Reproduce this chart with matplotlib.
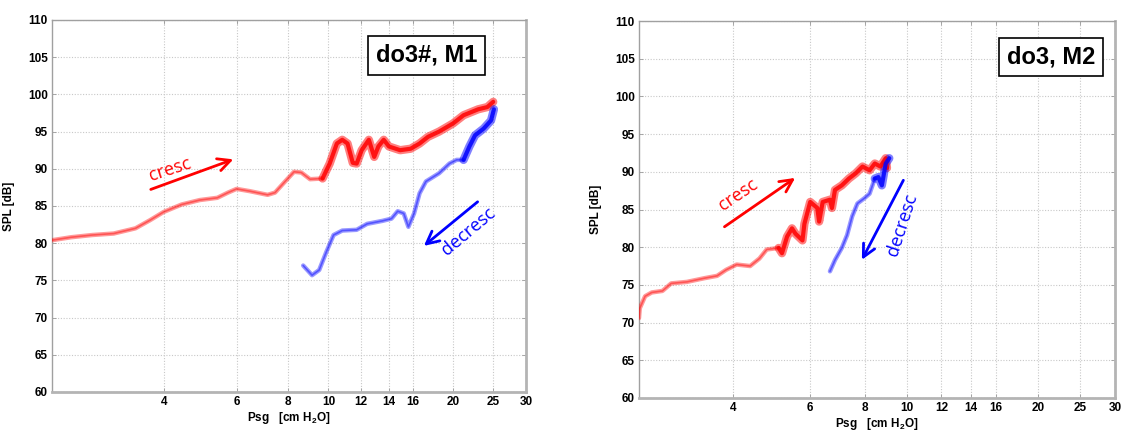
import matplotlib
matplotlib.use("Agg")
import matplotlib.pyplot as plt
import numpy as np

# ---------------- data ----------------
# Panel 1: do3#, M1
m1_cresc_x = [2.15, 2.39, 2.69, 3.03, 3.42, 3.71, 4.0, 4.42, 4.89, 5.39, 5.72, 6.0, 6.45, 7.13, 7.43,
              7.86, 8.26, 8.6, 9.03, 9.68, 10.07, 10.48, 10.8, 11.12, 11.45, 11.7, 12.03, 12.52, 12.9,
              13.2, 13.6, 14.0, 14.9, 15.8, 16.6, 17.4, 18.5, 20.0, 21.2, 23.0, 24.2, 25.0]
m1_cresc_y = [80.4, 80.8, 81.1, 81.3, 82.0, 83.1, 84.2, 85.2, 85.8, 86.1, 86.8, 87.3, 87.0, 86.5, 86.8,
              88.3, 89.6, 89.5, 88.6, 88.7, 90.7, 93.4, 93.9, 93.4, 90.8, 90.7, 92.5, 93.9, 91.6,
              93.0, 93.9, 93.0, 92.5, 92.7, 93.4, 94.3, 95.0, 96.1, 97.2, 98.0, 98.3, 99.0]
m1_decr_x = [8.69, 9.13, 9.5, 9.88, 10.29, 10.8, 11.7, 12.4, 13.5, 14.2, 14.7, 15.2, 15.6, 16.1, 16.6,
             17.2, 18.5, 19.6, 20.4, 21.2, 21.9, 22.6, 23.7, 24.7, 25.1]
m1_decr_y = [77.0, 75.7, 76.4, 78.8, 81.1, 81.7, 81.8, 82.6, 83.0, 83.3, 84.3, 84.0, 82.2, 84.0, 86.7,
             88.3, 89.4, 90.7, 91.2, 91.2, 93.0, 94.5, 95.4, 96.5, 98.0]

# Panel 2: do3, M2
m2_cresc_x = [2.43, 2.44, 2.51, 2.60, 2.75, 2.88, 3.13, 3.44, 3.67, 3.85, 4.07, 4.37, 4.59, 4.77, 5.08,
              5.17, 5.31, 5.45, 5.55, 5.76, 5.82, 6.0, 6.23, 6.29, 6.41, 6.66, 6.73, 6.84, 7.09, 7.36,
              7.63, 7.91, 8.21, 8.44, 8.69, 8.94, 9.0]
m2_cresc_y = [70.6, 71.9, 73.5, 74.0, 74.2, 75.2, 75.4, 75.9, 76.2, 77.0, 77.7, 77.5, 78.5, 79.7, 79.9,
              79.2, 81.4, 82.5, 81.8, 80.9, 83.1, 86.0, 85.2, 83.4, 86.0, 86.3, 85.2, 87.6, 88.2, 89.1,
              89.8, 90.7, 90.2, 91.1, 90.7, 91.8, 90.5]
m2_decr_x = [6.66, 6.84, 7.09, 7.29, 7.49, 7.70, 7.99, 8.21, 8.44, 8.60, 8.76, 8.86, 8.94, 9.11]
m2_decr_y = [76.8, 78.3, 79.9, 81.6, 84.1, 85.8, 86.5, 87.1, 89.1, 89.3, 88.2, 89.8, 91.1, 91.8]

x_ticks = [4, 6, 8, 10, 12, 14, 16, 20, 25, 30]
y_ticks = [60, 65, 70, 75, 80, 85, 90, 95, 100, 105, 110]
titles = ["do3#, M1", "do3, M2"]

# ---------------- figure ----------------
fig = plt.figure(figsize=(11.24, 4.32), dpi=100)
ax1 = fig.add_axes([52/1124, 1-392/432, 474/1124, 372/432])
ax2 = fig.add_axes([639/1124, 1-398/432, 476/1124, 377/432])

tickfont = dict(family="Liberation Sans", weight="bold", size=8.5)
annfont = "Open Sans"


def style(ax, xmin):
    ax.set_xscale("log")
    ax.set_xlim(xmin, 30)
    ax.set_ylim(60, 110)
    ax.xaxis.set_minor_locator(matplotlib.ticker.NullLocator())
    ax.set_xticks(x_ticks)
    ax.set_xticklabels([str(t) for t in x_ticks], **tickfont)
    ax.set_yticks(y_ticks)
    ax.set_yticklabels([str(t) for t in y_ticks], **tickfont)
    ax.tick_params(direction="in", length=3, width=0.6, color="#999999", top=True, right=True, pad=3)
    ax.grid(True, which="major", color="#c8c8c8", linestyle=(0, (1, 1.5)), linewidth=0.8)
    for s in ["left", "top"]:
        ax.spines[s].set_color("#a0a0a0")
        ax.spines[s].set_linewidth(1.0)
    for s in ["right", "bottom"]:
        ax.spines[s].set_color("#b4b4b4")
        ax.spines[s].set_linewidth(2.0)
    ax.set_xlabel("Psg   [cm H$_\\mathregular{2}$O]", fontsize=8.5, fontweight="bold",
                  family="Liberation Sans", labelpad=1)
    ax.set_ylabel("SPL [dB]", fontsize=8.5, fontweight="bold", family="Liberation Sans", labelpad=9)


def draw_series(ax, xs, ys, color, split):
    xs = np.asarray(xs)
    ys = np.asarray(ys)
    thin = xs <= split
    ax.plot(xs[thin], ys[thin], color=color, lw=3.2, alpha=0.4, solid_capstyle="round",
            solid_joinstyle="round", zorder=3)
    ax.plot(xs[thin], ys[thin], color=color, lw=1.2, alpha=0.45, solid_capstyle="round",
            solid_joinstyle="round", zorder=4)
    idx = max(np.argmax(~thin) - 1, 0) if (~thin).any() else len(xs)
    if idx < len(xs):
        ax.plot(xs[idx:], ys[idx:], color=color, lw=6, alpha=0.5, solid_capstyle="round",
                solid_joinstyle="round", zorder=3)
        ax.plot(xs[idx:], ys[idx:], color=color, lw=3, alpha=0.85, solid_capstyle="round",
                solid_joinstyle="round", zorder=4)


arrow_style = "->,head_length=0.9,head_width=0.45"

# ---- panel 1 ----
style(ax1, 2.15)
draw_series(ax1, m1_cresc_x, m1_cresc_y, "#ff0000", 10.0)
draw_series(ax1, m1_decr_x, m1_decr_y, "#0000ff", 21.5)

ax1.annotate("", xy=(5.98, 91.4), xytext=(3.67, 87.1),
             arrowprops=dict(arrowstyle=arrow_style, color="#ff0000", lw=2))
ax1.text(4.15, 89.9, "cresc", color="#ff0000", fontsize=13, family=annfont, rotation=18,
         ha="center", va="center")
ax1.annotate("", xy=(16.8, 79.4), xytext=(23.2, 85.8),
             arrowprops=dict(arrowstyle=arrow_style, color="#0000ff", lw=2))
ax1.text(21.8, 81.6, "decresc", color="#0000ff", fontsize=13, family=annfont, rotation=40,
         ha="center", va="center")
ax1.text(0.79, 0.905, titles[0], transform=ax1.transAxes, fontsize=17, fontweight="bold",
         family="Liberation Sans", ha="center", va="center",
         bbox=dict(boxstyle="square,pad=0.33", facecolor="white", edgecolor="black", lw=1.2))

# ---- panel 2 ----
style(ax2, 2.43)
draw_series(ax2, m2_cresc_x, m2_cresc_y, "#ff0000", 5.1)
draw_series(ax2, m2_decr_x, m2_decr_y, "#0000ff", 8.5)

ax2.annotate("", xy=(5.61, 89.4), xytext=(3.77, 82.5),
             arrowprops=dict(arrowstyle=arrow_style, color="#ff0000", lw=2))
ax2.text(4.1, 86.9, "cresc", color="#ff0000", fontsize=13, family=annfont, rotation=34,
         ha="center", va="center")
ax2.annotate("", xy=(7.83, 78.0), xytext=(9.88, 89.2),
             arrowprops=dict(arrowstyle=arrow_style, color="#0000ff", lw=2))
ax2.text(9.75, 82.9, "decresc", color="#0000ff", fontsize=13, family=annfont, rotation=72,
         ha="center", va="center")
ax2.text(0.866, 0.905, titles[1], transform=ax2.transAxes, fontsize=17, fontweight="bold",
         family="Liberation Sans", ha="center", va="center",
         bbox=dict(boxstyle="square,pad=0.33", facecolor="white", edgecolor="black", lw=1.2))

fig.savefig("out.png", dpi=100)
